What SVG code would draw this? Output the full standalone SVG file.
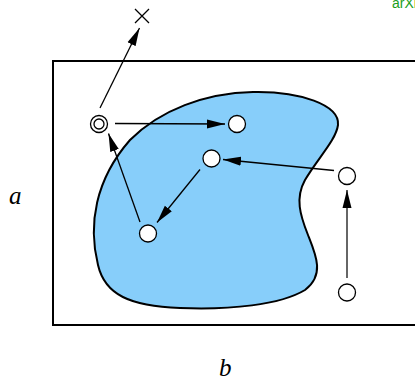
<svg xmlns="http://www.w3.org/2000/svg" width="415" height="381" viewBox="0 0 415 381">
<defs>
<style>
.node{fill:#fff;stroke:#000;stroke-width:1.3}
.conn{stroke:#000;stroke-width:1.3;fill:none}
.lbl{font-family:"Liberation Serif",serif;font-style:italic;font-size:25px;fill:#000}
</style>
<marker id="ah" markerWidth="19" markerHeight="11" refX="18" refY="5.5" orient="auto" markerUnits="userSpaceOnUse">
<path d="M0,1 L18,5.5 L0,10 Z" fill="#000"/>
</marker>
</defs>
<rect width="415" height="381" fill="#fff"/>
<text x="392" y="8" font-family="Liberation Sans,sans-serif" font-size="14" fill="#1a9e1a">arXiv</text>
<g id="frame">
<rect x="53" y="61" width="380" height="264" fill="none" stroke="#000" stroke-width="2"/>
</g>
<g id="region">
<path d="M253,92 C300,91 340,105 338,125 C336,140 318,158 305,180 C295,198 300,215 308,235 C316,255 325,275 305,290 C280,305 230,310 180,308 C130,306 105,295 98,265 C88,225 95,180 130,140 C160,110 205,93 253,92 Z" fill="#87cefa" stroke="#000" stroke-width="2"/>
</g>
<g id="connectors">
<line class="conn" x1="100" y1="108" x2="139.5" y2="28" marker-end="url(#ah)"/>
<line class="conn" x1="115" y1="123.5" x2="225" y2="124" marker-end="url(#ah)"/>
<line class="conn" x1="334" y1="170.5" x2="223" y2="159.5" marker-end="url(#ah)"/>
<line class="conn" x1="200" y1="169.5" x2="157" y2="222.5" marker-end="url(#ah)"/>
<line class="conn" x1="140" y1="222" x2="108.5" y2="133.5" marker-end="url(#ah)"/>
<line x1="347" y1="278" x2="347" y2="190" stroke="#666" stroke-width="2" marker-end="url(#ah)"/>
</g>
<g id="nodeX">
<path d="M135,9 L149,23 M149,9 L135,23" stroke="#000" stroke-width="1.3"/>
</g>
<g id="nodeStart">
<circle class="node" cx="99" cy="124" r="8.5"/>
<circle class="node" cx="99" cy="124" r="5"/>
</g>
<g id="nodeA"><circle class="node" cx="237" cy="124" r="8.5"/></g>
<g id="nodeB"><circle class="node" cx="211.5" cy="158.5" r="8.5"/></g>
<g id="nodeC"><circle class="node" cx="347" cy="176" r="8.5"/></g>
<g id="nodeD"><circle class="node" cx="347" cy="292.5" r="8.5"/></g>
<g id="nodeE"><circle class="node" cx="148" cy="233.5" r="8.5"/></g>
<g id="labels">
<text class="lbl" x="9" y="204">a</text>
<text class="lbl" x="219" y="376">b</text>
</g>
</svg>
